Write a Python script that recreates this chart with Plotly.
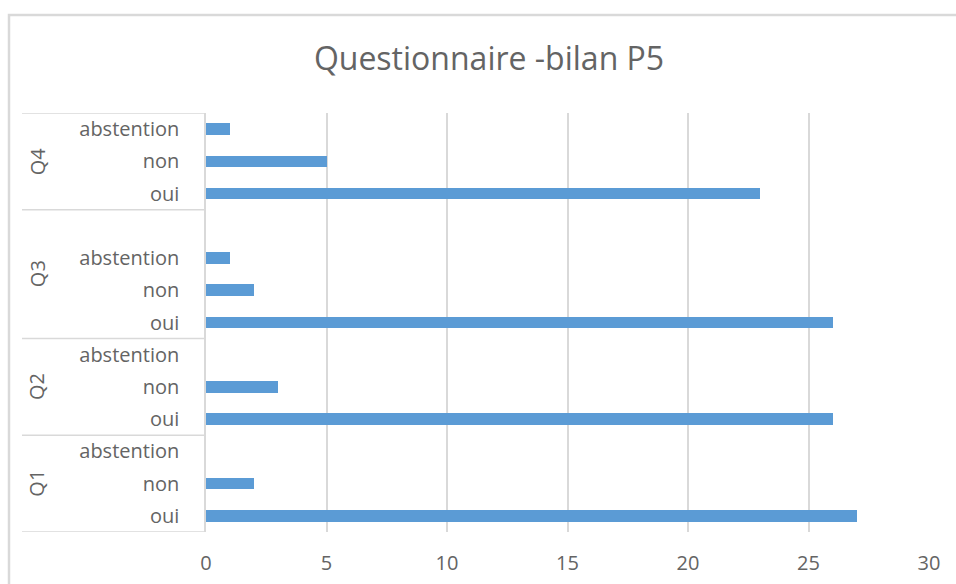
import plotly.graph_objects as go

# data, bottom row first (as Excel draws it)
groups = ["Q1", "Q1", "Q1", "Q2", "Q2", "Q2", "Q3", "Q3", "Q3", "Q3", "Q4", "Q4", "Q4"]
answers = ["oui", "non", "abstention", "oui", "non", "abstention",
           "oui", "non", "abstention", "", "oui", "non", "abstention"]
counts = [27, 2, 0, 26, 3, 0, 26, 2, 1, None, 23, 5, 1]
x_ticks = [0, 5, 10, 15, 20, 25, 30]

grey = "#646464"
line_grey = "#d9d9d9"
font = "Open Sans"

rows = list(range(len(answers)))

fig = go.Figure()
fig.add_trace(
    go.Bar(
        x=counts,
        y=rows,
        orientation="h",
        width=0.36,
        marker=dict(color="#5b9bd5", line=dict(width=0)),
        showlegend=False,
    )
)

# plot area in paper coordinates: x 206..929, y 113..532 (px)
left_px = 22
plot_left, plot_w = 206, 723
lab_x0 = (left_px - plot_left) / plot_w

# group divider lines and group labels
bounds = [-0.5]
for i in range(1, len(groups)):
    if groups[i] != groups[i - 1]:
        bounds.append(i - 0.5)
bounds.append(len(groups) - 0.5)

for b in bounds:
    fig.add_shape(
        type="line", xref="paper", yref="y",
        x0=lab_x0, x1=0, y0=b, y1=b,
        line=dict(color=line_grey, width=1.5),
    )

for g in dict.fromkeys(groups):
    idx = [i for i, v in enumerate(groups) if v == g]
    fig.add_annotation(
        text=g, xref="paper", yref="y",
        x=(37 - plot_left) / plot_w, y=sum(idx) / len(idx),
        xanchor="center", yanchor="middle",
        showarrow=False, textangle=-90,
        font=dict(family=font, size=20, color=grey),
    )

# chart border
fig.add_shape(
    type="rect", xref="paper", yref="paper",
    x0=(9 - plot_left) / plot_w, x1=1.2,
    y0=-0.3, y1=(532 - 15) / 419,
    line=dict(color=line_grey, width=2.5),
)

fig.update_layout(
    width=956,
    height=584,
    margin=dict(l=206, r=27, t=113, b=52),
    paper_bgcolor="white",
    plot_bgcolor="white",
    title=dict(
        text="Questionnaire -bilan P5",
        x=489 / 956, xref="container", xanchor="center",
        y=1 - 59 / 584, yref="container", yanchor="middle",
        font=dict(family=font, size=32, color=grey),
    ),
    xaxis=dict(
        range=[0, 30],
        tickvals=x_ticks,
        showgrid=True,
        gridcolor=line_grey,
        gridwidth=1.5,
        zeroline=False,
        showline=False,
        ticks="",
        automargin=False,
        ticklabelstandoff=17,
        tickfont=dict(family=font, size=20, color=grey),
    ),
    yaxis=dict(
        range=[-0.5, len(answers) - 0.5],
        tickvals=rows,
        ticktext=answers,
        showgrid=False,
        zeroline=False,
        showline=True,
        linecolor=line_grey,
        linewidth=1.5,
        ticks="",
        automargin=False,
        ticklabelstandoff=21,
        tickfont=dict(family=font, size=20, color=grey),
    ),
    bargap=0,
)

fig.write_html(
    "out.html",
    config={"displayModeBar": False},
    post_script="document.body.style.margin='0';",
)
